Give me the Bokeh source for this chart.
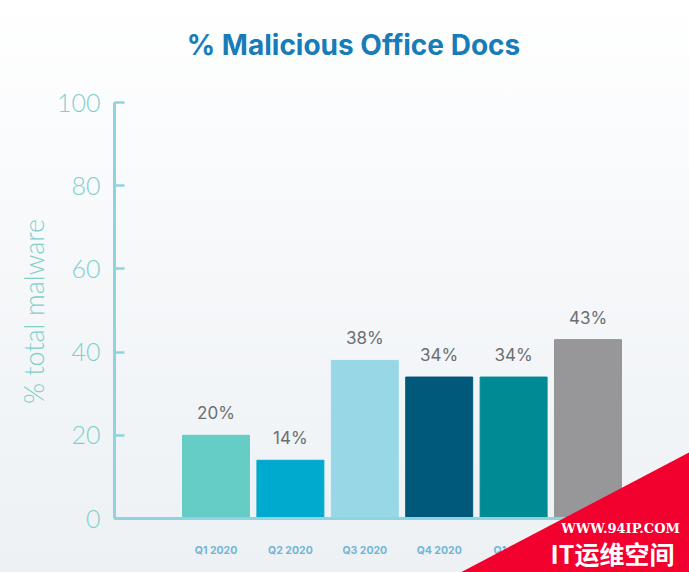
import math
from bokeh.plotting import figure
from bokeh.models import Range1d, FixedTicker, Label, PolyAnnotation, ColumnDataSource
from bokeh.core.properties import value
from bokeh.embed import file_html
from bokeh.resources import INLINE

# ---- data ----
quarters = ["Q1 2020", "Q2 2020", "Q3 2020", "Q4 2020", "Q1 2021", "Q2 2021"]
pct_malicious = [20, 14, 38, 34, 34, 43]
bar_colors = ["#66ccc6", "#00a9ce", "#98d8e6", "#00587a", "#008b94", "#979799"]
y_ticks = [0, 20, 40, 60, 80, 100]
title_text = "% Malicious Office Docs"
y_label = "% total malware"
watermark_url = "WWW.94IP.COM"
watermark_name = "IT运维空间"

idx = list(range(len(quarters)))
src = ColumnDataSource(dict(
    x=idx,
    top=pct_malicious,
    base=[y_ticks[0]] * len(idx),
    color=bar_colors,
    label=[f"{v}%" for v in pct_malicious],
))

# ---- layout constants (pixels) ----
W, H = 689, 572
AXIS_X_PX = 114               # pixel column of the y axis
CAT_PX = 74.4                 # pixels per category
FIRST_CAT_PX = 215.5          # pixel column of first bar centre
PX_PER_UNIT = 416 / 100.0     # 0..100 spans 416 px
Y0_PX = 518                   # pixel row of value 0

x_lo = -FIRST_CAT_PX / CAT_PX
x_hi = (W - FIRST_CAT_PX) / CAT_PX
x_axis_start = (AXIS_X_PX - FIRST_CAT_PX) / CAT_PX
y_lo = -(H - Y0_PX) / PX_PER_UNIT
y_hi = Y0_PX / PX_PER_UNIT

p = figure(width=W, height=H, output_backend="svg", toolbar_location=None,
           x_range=Range1d(x_lo, x_hi), y_range=Range1d(y_lo, y_hi),
           min_border_left=0, min_border_top=0, min_border_bottom=0,
           min_border_right=0)

p.border_fill_color = None
p.background_fill_color = None
p.outline_line_color = None
p.styles = {"background": "linear-gradient(180deg, #ffffff 0%, #f6f8fa 45%, #edf1f4 100%)"}
p.grid.visible = False

LIGHT = "'Lato Light', 'Inter Light', Lato"
axis_col = "#8fd3e2"
label_col = "#7fcfcb"

p.vbar(x="x", top="top", bottom="base", width=0.9, color="color", source=src)
p.text(x="x", y="top", text="label", source=src, text_align="center",
       text_baseline="middle", y_offset=-22, text_color="#6d6e71",
       text_font=value("Inter"), text_font_size="17px")

# ---- y axis ----
yax = p.yaxis[0]
yax.fixed_location = x_axis_start
yax.bounds = (y_ticks[0], y_ticks[-1])
yax.ticker = FixedTicker(ticks=y_ticks)
yax.axis_line_color = axis_col
yax.axis_line_width = 3
yax.major_tick_line_color = axis_col
yax.major_tick_line_width = 2.5
yax.major_tick_in = 10
yax.major_tick_out = 0
yax.minor_tick_line_color = None
yax.major_label_text_color = label_col
yax.major_label_text_font = LIGHT
yax.major_label_text_font_size = "25px"
yax.major_label_standoff = 14

# ---- x axis ----
xax = p.xaxis[0]
xax.fixed_location = y_ticks[0]
xax.bounds = (x_axis_start, x_hi + 1)
xax.ticker = FixedTicker(ticks=idx)
xax.major_label_overrides = {i: q for i, q in zip(idx, quarters)}
xax.axis_line_color = axis_col
xax.axis_line_width = 3
xax.major_tick_line_color = None
xax.minor_tick_line_color = None
xax.major_label_text_color = "#72b5d6"
xax.major_label_text_font = "Inter"
xax.major_label_text_font_style = "bold"
xax.major_label_text_font_size = "10.5px"
xax.major_label_standoff = 19

# screen-unit annotations are measured from the frame's bottom-left corner
def fy(py):
    return H - py

# y axis title
p.add_layout(Label(x=33, y=fy(311), x_units="screen", y_units="screen",
                   text=y_label, angle=math.pi / 2, text_align="center",
                   text_baseline="middle", text_color=label_col, text_font=LIGHT,
                   text_font_size="27px"))

# chart title
p.add_layout(Label(x=353, y=fy(44), x_units="screen", y_units="screen",
                   text=title_text, text_align="center", text_baseline="middle",
                   text_color="#177cb7", text_font="Inter", text_font_style="bold",
                   text_font_size="28px"))

# watermark overlay
p.add_layout(PolyAnnotation(xs=[441, 700, 700], ys=[fy(582), fy(446), fy(582)],
                            xs_units="screen", ys_units="screen",
                            fill_color="#f2002e", fill_alpha=1, line_color=None))
p.add_layout(Label(x=620, y=fy(528), x_units="screen", y_units="screen",
                   text=watermark_url, text_align="center", text_baseline="middle",
                   text_color="white", text_font="DejaVu Serif", text_font_style="bold",
                   text_font_size="13px"))
p.add_layout(Label(x=612, y=fy(552), x_units="screen", y_units="screen",
                   text=watermark_name, text_align="center", text_baseline="middle",
                   text_color="white", text_font="Noto Sans CJK SC", text_font_style="bold",
                   text_font_size="25px"))

open("out.html", "w").write(file_html(p, INLINE))
